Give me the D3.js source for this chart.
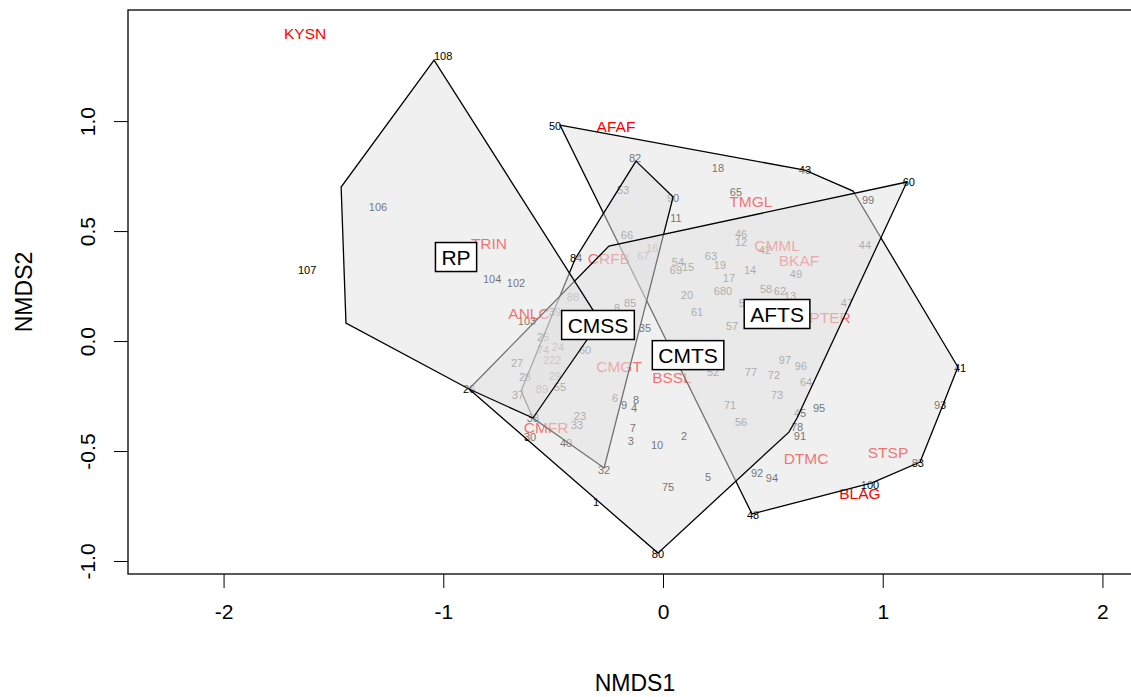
<!DOCTYPE html>
<html>
<head>
<meta charset="utf-8">
<script src="https://cdn.jsdelivr.net/npm/d3@7"></script>
<style>
  body { margin: 0; background: #fff; }
  svg { display: block; }
  text { font-family: "Liberation Sans", Arial, sans-serif; }
</style>
</head>
<body>
<div id="chart"></div>
<script>
// site scores: [label, NMDS1, NMDS2]
const sites = [
  ["108", -1.001, 1.295], ["106", -1.297, 0.609], ["107", -1.620, 0.323],
  ["104", -0.778, 0.282], ["102", -0.669, 0.264], ["103", -0.619, 0.091],
  ["84", -0.396, 0.377], ["50", -0.491, 0.977], ["82", -0.127, 0.832],
  ["18", 0.250, 0.786], ["43", 0.646, 0.777], ["60", 1.119, 0.723],
  ["99", 0.933, 0.641], ["53", -0.182, 0.686], ["90", 0.046, 0.650],
  ["11", 0.059, 0.559], ["65", 0.332, 0.677], ["46", 0.355, 0.486],
  ["12", 0.355, 0.450], ["42", 0.464, 0.414], ["66", -0.164, 0.482],
  ["16", -0.050, 0.423], ["67", -0.091, 0.386], ["54", 0.068, 0.359],
  ["15", 0.114, 0.336], ["69", 0.059, 0.323], ["63", 0.218, 0.386],
  ["19", 0.259, 0.345], ["14", 0.396, 0.323], ["49", 0.605, 0.305],
  ["17", 0.300, 0.286], ["680", 0.273, 0.227], ["58", 0.469, 0.236],
  ["62", 0.532, 0.227], ["13", 0.578, 0.205], ["20", 0.109, 0.209],
  ["61", 0.155, 0.132], ["51", 0.373, 0.173], ["57", 0.314, 0.068],
  ["44", 0.919, 0.436], ["47", 0.837, 0.173], ["88", -0.410, 0.200],
  ["8", -0.209, 0.150], ["85", -0.150, 0.173], ["35", -0.082, 0.059],
  ["39", -0.491, 0.132], ["60", -0.355, -0.041], ["25", -0.546, 0.018],
  ["74", -0.546, -0.041], ["24", -0.478, -0.027], ["222", -0.505, -0.086],
  ["27", -0.664, -0.100], ["28", -0.628, -0.164], ["29", -0.491, -0.159],
  ["37", -0.660, -0.245], ["89", -0.551, -0.218], ["55", -0.469, -0.209],
  ["23", -0.378, -0.341], ["33", -0.391, -0.382], ["40", -0.441, -0.464],
  ["38", -0.592, -0.350], ["30", -0.605, -0.436], ["32", -0.268, -0.586],
  ["1", -0.305, -0.732], ["6", -0.218, -0.259], ["9", -0.177, -0.291],
  ["8", -0.123, -0.268], ["4", -0.132, -0.305], ["7", -0.137, -0.395],
  ["3", -0.146, -0.455], ["10", -0.027, -0.473], ["2", 0.096, -0.432],
  ["5", 0.205, -0.618], ["75", 0.023, -0.664], ["80", -0.023, -0.968],
  ["52", 0.228, -0.141], ["77", 0.400, -0.141], ["72", 0.505, -0.155],
  ["97", 0.555, -0.086], ["96", 0.628, -0.114], ["64", 0.651, -0.186],
  ["73", 0.519, -0.245], ["71", 0.305, -0.291], ["56", 0.355, -0.368],
  ["95", 0.710, -0.305], ["45", 0.623, -0.327], ["78", 0.610, -0.391],
  ["91", 0.623, -0.432], ["92", 0.428, -0.600], ["94", 0.496, -0.623],
  ["48", 0.410, -0.791], ["41", 1.352, -0.123], ["93", 1.261, -0.291],
  ["83", 1.160, -0.555], ["100", 0.942, -0.655], ["26", -0.883, -0.218]
];

// species scores
const species = [
  ["KYSN", -1.629, 1.400], ["AFAF", -0.214, 0.977], ["TMGL", 0.400, 0.632],
  ["TRIN", -0.792, 0.445], ["CRFB", -0.246, 0.377], ["CMML", 0.519, 0.432],
  ["BKAF", 0.619, 0.368], ["ANLC", -0.610, 0.127], ["PTER", 0.760, 0.105],
  ["CMGT", -0.200, -0.114], ["BSSL", 0.041, -0.164], ["CMFR", -0.532, -0.395],
  ["DTMC", 0.651, -0.536], ["STSP", 1.024, -0.505], ["BLAG", 0.896, -0.695]
];

// convex hulls per group (drawn in factor order)
const groupNames = ["AFTS", "CMSS", "CMTS", "RP"];
const hullAFTS = [[-0.469, 0.982], [0.646, 0.777], [0.865, 0.682], [1.342, -0.118],
  [1.274, -0.291], [1.170, -0.550], [0.951, -0.645], [0.405, -0.786]];
const hullCMSS = [[-0.123, 0.818], [0.046, 0.655], [-0.268, -0.577], [-0.592, -0.350],
  [-0.646, -0.227], [-0.400, 0.373]];
const hullCMTS = [[-0.883, -0.218], [-0.246, 0.432], [1.110, 0.723], [0.610, -0.350],
  [0.573, -0.414], [-0.023, -0.964]];
const hullRP = [[-1.042, 1.277], [-1.465, 0.700], [-1.443, 0.082], [-0.883, -0.218],
  [-0.592, -0.350], [-0.287, 0.091]];
const hulls = [hullAFTS, hullCMSS, hullCMTS, hullRP];

// group label positions
const groupX = [0.519, -0.296, 0.114, -0.942];
const groupY = [0.123, 0.073, -0.064, 0.382];

const xTicks = [-2, -1, 0, 1, 2];
const yTicks = [-1, -0.5, 0, 0.5, 1];

const width = 1131, height = 697;
const plotL = 128, plotT = 10, plotR = 1142, plotB = 574;

const svg = d3.select("#chart").append("svg")
  .attr("width", width)
  .attr("height", height);

const x = d3.scaleLinear().domain([-2.435, 2.18]).range([plotL, plotR]);
const y = d3.scaleLinear().domain([-1.059, 1.505]).range([plotB, plotT]);

// axes
const xAxis = svg.append("g")
  .attr("transform", `translate(0,${plotB})`)
  .call(d3.axisBottom(x).tickValues(xTicks).tickSize(14).tickPadding(16)
    .tickFormat((d) => String(d)));
xAxis.select(".domain").remove();
xAxis.selectAll("text").style("font-size", "21px").attr("fill", "#000");

const yAxis = svg.append("g")
  .attr("transform", `translate(${plotL},0)`)
  .call(d3.axisLeft(y).tickValues(yTicks).tickSize(14)
    .tickFormat((d) => d.toFixed(1)));
yAxis.select(".domain").remove();
yAxis.selectAll("text")
  .attr("x", null)
  .attr("text-anchor", "middle")
  .attr("transform", "translate(-40,0) rotate(-90)")
  .attr("dy", "0.35em")
  .style("font-size", "21px").attr("fill", "#000");

// frame
svg.append("rect")
  .attr("x", plotL).attr("y", plotT)
  .attr("width", plotR - plotL).attr("height", plotB - plotT)
  .attr("fill", "none").attr("stroke", "#000").attr("stroke-width", 1.3);

svg.append("text")
  .attr("x", (plotL + plotR) / 2).attr("y", 691)
  .attr("text-anchor", "middle")
  .style("font-size", "23px")
  .text("NMDS1");

svg.append("text")
  .attr("transform", `translate(24,${(plotT + plotB) / 2}) rotate(-90)`)
  .attr("text-anchor", "middle")
  .attr("dy", "0.35em")
  .style("font-size", "23px")
  .text("NMDS2");

// site labels
svg.append("g").selectAll("text")
  .data(sites)
  .enter()
  .append("text")
  .attr("x", (d) => x(d[1]))
  .attr("y", (d) => y(d[2]))
  .attr("dy", "0.35em")
  .attr("text-anchor", "middle")
  .style("font-size", "11px")
  .attr("fill", "#000")
  .text((d) => d[0]);

// species labels
svg.append("g").selectAll("text")
  .data(species)
  .enter()
  .append("text")
  .attr("x", (d) => x(d[1]))
  .attr("y", (d) => y(d[2]))
  .attr("dy", "0.35em")
  .attr("text-anchor", "middle")
  .style("font-size", "15.5px")
  .attr("fill", "#ff0000")
  .text((d) => d[0]);

// hulls, semi-transparent on top of the labels
const line = d3.line().x((d) => x(d[0])).y((d) => y(d[1])).curve(d3.curveLinearClosed);
svg.append("g").selectAll("path")
  .data(hulls)
  .enter()
  .append("path")
  .attr("d", line)
  .attr("fill", "rgb(225,225,225)")
  .attr("fill-opacity", 0.5)
  .attr("stroke", "#000")
  .attr("stroke-width", 1.3);

// group labels in boxes
const labels = svg.append("g").selectAll("g")
  .data(groupNames)
  .enter()
  .append("g")
  .attr("transform", (d, i) => `translate(${x(groupX[i])},${y(groupY[i])})`);

labels.append("text")
  .attr("text-anchor", "middle")
  .attr("dy", "0.36em")
  .style("font-size", "21px")
  .text((d) => d);

labels.each(function () {
  const g = d3.select(this);
  const w = g.select("text").node().getComputedTextLength() + 12;
  g.insert("rect", "text")
    .attr("x", -w / 2).attr("y", -14.5)
    .attr("width", w).attr("height", 29)
    .attr("fill", "#fff")
    .attr("stroke", "#000")
    .attr("stroke-width", 1.5);
});
</script>
</body>
</html>
